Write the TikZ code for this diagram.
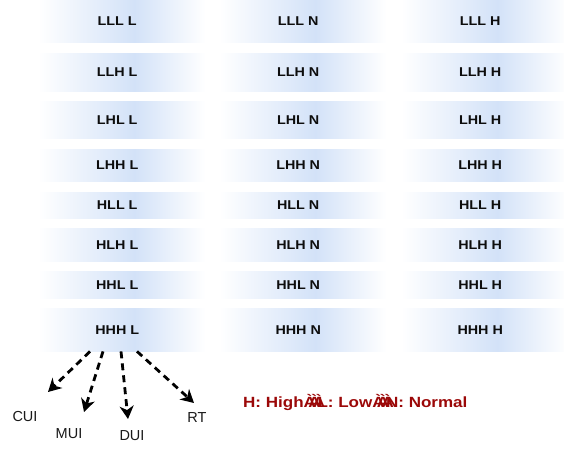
\documentclass[tikz,border=0pt]{standalone}
\usepackage{fontspec}
\setmainfont{Liberation Sans}
\newfontfamily\cellfont[FakeStretch=1.12]{Liberation Sans}
\newfontfamily\keyfont[FakeStretch=1.15]{Liberation Sans}
\usetikzlibrary{arrows.meta,calc}

\definecolor{cellblue}{RGB}{211,226,248}
\definecolor{keyred}{RGB}{155,8,8}
\pgfdeclarehorizontalshading{cellshade}{100bp}{%
  color(0bp)=(white); color(25bp)=(white); color(52bp)=(cellblue);
  color(62bp)=(cellblue!50); color(72bp)=(white); color(100bp)=(white)}

% three overprinted accent glyphs, as they appear in the key
\newcommand\overA{\makebox[4.6pt][l]{À}\makebox[4.6pt][l]{À}\makebox[4.6pt][l]{À}}

\tikzset{
  cell/.style={shading=cellshade, minimum width=178pt, inner sep=0pt,
    anchor=north west},
  celltext/.style={font=\cellfont\bfseries\fontsize{12.8}{14}\selectfont,
    text=black!95},
  flow/.style={line width=2.8pt, dash pattern=on 7pt off 5pt,
    -{Stealth[length=13pt,width=14pt,inset=4pt]}},
  outlabel/.style={font=\fontsize{14.5}{16}\selectfont, text=black!90},
  keytext/.style={font=\keyfont\bfseries\fontsize{14.8}{16}\selectfont,
    text=keyred, anchor=west, inner sep=0pt}
}

\begin{document}
\begin{tikzpicture}[x=1pt,y=-1pt]
\useasboundingbox (0,0) rectangle (564,448);
\clip (0,0) rectangle (564,448);

% grid of shaded cells: rows are the three-letter states, columns the last level
\foreach \r/\pre/\top/\bot in {1/LLL/0/42, 2/LLH/53/91, 3/LHL/101/138,
    4/LHH/149/181, 5/HLL/192/218, 6/HLH/228/261, 7/HHL/271/298, 8/HHH/308/351}{
  \foreach \c/\suf/\lft in {1/L/38, 2/N/219, 3/H/401}{
    \pgfmathsetmacro\hh{\bot-\top}
    \node[cell, minimum height=\hh pt,
      label={[celltext, xshift=-10pt]center:\pre\ \suf}]
      (r\r c\c) at (\lft,\top) {};
  }
}

% outgoing measures of the last cell
\coordinate (s1) at ($(r8c1.south west)+(52,0)$);
\coordinate (s2) at ($(r8c1.south west)+(65,0)$);
\coordinate (s3) at ($(r8c1.south west)+(83,0)$);
\coordinate (s4) at ($(r8c1.south west)+(99,0)$);
\coordinate (tcui) at (48,392);
\coordinate (tmui) at (84,412);
\coordinate (tdui) at (128,419);
\coordinate (trt)  at (194,403);

\draw[flow] (s1) -- (tcui);
\draw[flow] (s2) -- (tmui);
\draw[flow] (s3) -- (tdui);
\draw[flow] (s4) -- (trt);

\node[outlabel] (cui) at (25,416) {CUI};
\node[outlabel] (mui) at (69,434) {MUI};
\node[outlabel] (dui) at (132,436) {DUI};
\node[outlabel] (rt)  at (197,418) {RT};

% key
\node[keytext] (key) at (243,402) {H: High\overA L: Low\overA N: Normal};
\end{tikzpicture}
\end{document}
